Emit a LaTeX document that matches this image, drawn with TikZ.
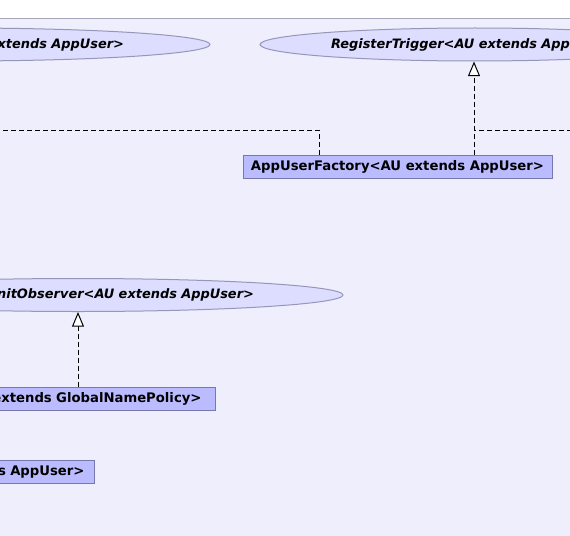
\documentclass[tikz,border=0pt]{standalone}
\usepackage{fontspec}
\setmainfont{DejaVu Sans}
\usetikzlibrary{arrows.meta,shapes.geometric}
\definecolor{panelfill}{RGB}{238,238,253}
\definecolor{panelline}{RGB}{165,165,185}
\definecolor{ellfill}{RGB}{221,221,255}
\definecolor{ellline}{RGB}{150,150,185}
\definecolor{boxfill}{RGB}{187,187,255}
\definecolor{boxline}{RGB}{120,120,170}
\tikzset{
  umlfont/.style={font=\fontsize{9.9}{11}\selectfont\bfseries},
  iface/.style={ellipse, draw=ellline, fill=ellfill, line width=0.75pt, inner sep=0pt,
    minimum height=24.75pt, font=\fontsize{9.7}{11}\selectfont\bfseries\itshape},
  klass/.style={rectangle, draw=boxline, fill=boxfill, line width=0.75pt, inner ysep=0pt,
    minimum height=17.25pt, umlfont},
  realize/.style={dashed, dash pattern=on 3.75pt off 2.25pt, line width=0.75pt},
  realarrow/.style={realize, -{Triangle[open, length=11pt, width=9pt, fill=white]}},
}
\begin{document}
\begin{tikzpicture}[x=0.75pt, y=-0.75pt]
\useasboundingbox (0,0) rectangle (570,535);
\clip (0,0) rectangle (570,535);
\fill[white] (0,0) rectangle (570,535);
\draw[panelline, fill=panelfill, line width=0.75pt] (-10,19) rectangle (580,545);

% interfaces (ellipses)
\node[iface, minimum width=378pt, text width=249pt, align=right] (e1) at (-42,44.5) {xtends AppUser>};
\node[iface, minimum width=322.5pt, text width=216pt, align=left] (e2) at (475,44.5) {RegisterTrigger<AU extends App};
\node[iface, minimum width=397.5pt, text width=264pt, align=right] (e3) at (78,295) {nitObserver<AU extends AppUser>};

% classes (boxes)
\node[klass, minimum width=231.75pt, inner xsep=0pt] (fac) at (397.5,166.5) {AppUserFactory<AU extends AppUser>};
\node[klass, anchor=north east, text width=300pt, align=right, inner xsep=10.5pt] (gnp) at (216,387) {extends GlobalNamePolicy>};
\node[klass, anchor=north east, text width=300pt, align=right, inner xsep=7.5pt] (au) at (95,460) {s AppUser>};

% connectors
\coordinate (jl) at (-10,130);
\coordinate (jr) at (580,130);
\draw[realarrow] ([xshift=-0.75pt]e2.south |- fac.north) -- ([xshift=-0.75pt]e2.south);
\draw[realize] (jr) -- ([xshift=-0.75pt]e2.south |- jr);
\draw[realize] ([xshift=57.75pt]fac.north west) |- (jl);
\draw[realarrow] (e3.south |- gnp.north) -- (e3.south);
\end{tikzpicture}
\end{document}
